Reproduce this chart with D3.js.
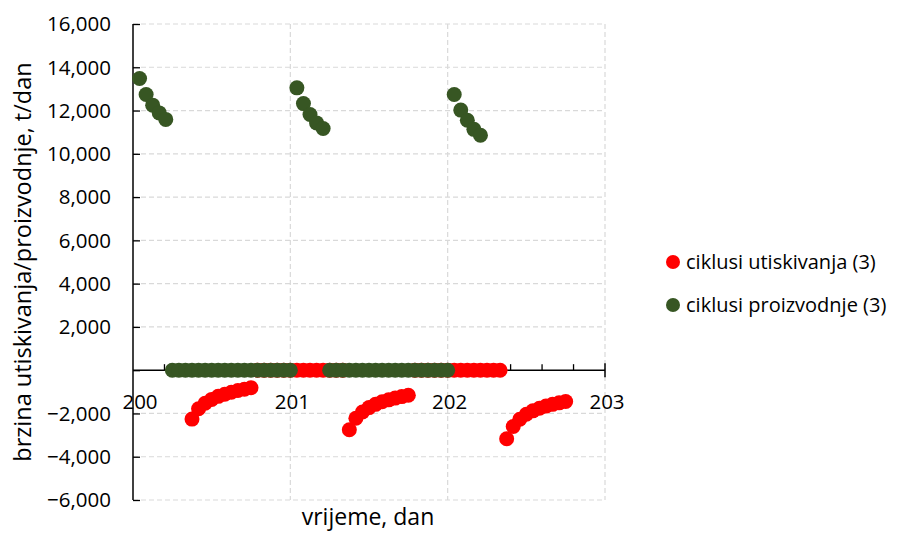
<!DOCTYPE html>
<html>
<head>
<meta charset="utf-8">
<script src="https://cdn.jsdelivr.net/npm/d3@7"></script>
<style>
  html, body { margin: 0; padding: 0; background: #fff; }
  svg { display: block; font-family: "Open Sans", "Liberation Sans", sans-serif; }
</style>
</head>
<body>
<svg id="chart" width="897" height="534"></svg>
<script>
// ---- data (time in hours after day 200, rate in t/dan) ----
const injHours = [9, 10, 11, 12, 13, 14, 15, 16, 17, 18,
  19, 20, 21, 22, 23, 24, 25, 26, 27, 28, 29, 30, 31, 32,
  33, 34, 35, 36, 37, 38, 39, 40, 41, 42,
  43, 44, 45, 46, 47, 48, 49, 50, 51, 52, 53, 54, 55, 56,
  57, 58, 59, 60, 61, 62, 63, 64, 65, 66];
const injRate = [-2260, -1780, -1530, -1350, -1210, -1110, -1020, -940, -880, -810,
  0, 0, 0, 0, 0, 0, 0, 0, 0, 0, 0, 0, 0, 0,
  -2750, -2220, -1930, -1730, -1580, -1460, -1370, -1290, -1220, -1160,
  0, 0, 0, 0, 0, 0, 0, 0, 0, 0, 0, 0, 0, 0,
  -3170, -2600, -2270, -2040, -1880, -1760, -1660, -1580, -1510, -1450];

const prodHours = [1, 2, 3, 4, 5,
  6, 7, 8, 9, 10, 11, 12, 13, 14, 15, 16, 17, 18, 19, 20, 21, 22, 23, 24,
  25, 26, 27, 28, 29,
  30, 31, 32, 33, 34, 35, 36, 37, 38, 39, 40, 41, 42, 43, 44, 45, 46, 47, 48,
  49, 50, 51, 52, 53];
const prodRate = [13480, 12740, 12250, 11890, 11590,
  0, 0, 0, 0, 0, 0, 0, 0, 0, 0, 0, 0, 0, 0, 0, 0, 0, 0, 0,
  13050, 12320, 11820, 11430, 11170,
  0, 0, 0, 0, 0, 0, 0, 0, 0, 0, 0, 0, 0, 0, 0, 0, 0, 0, 0,
  12740, 12020, 11550, 11130, 10860];

const startDay = 200;
const xTicks = [200, 201, 202, 203];
const xMinorTicks = [200.2, 200.4, 200.6, 200.8, 201.2, 201.4, 201.6, 201.8, 202.2, 202.4, 202.6, 202.8];
const yTicks = [-6000, -4000, -2000, 0, 2000, 4000, 6000, 8000, 10000, 12000, 14000, 16000];
const seriesNames = ["ciklusi utiskivanja (3)", "ciklusi proizvodnje (3)"];
const seriesColors = ["#ff0000", "#375623"];
const xTitle = "vrijeme, dan";
const yTitle = "brzina utiskivanja/proizvodnje, t/dan";

// ---- layout ----
const svg = d3.select("#chart");
const plot = { left: 133, right: 605, top: 24, bottom: 500 };
const x = d3.scaleLinear().domain([200, 203]).range([plot.left, plot.right]);
const y = d3.scaleLinear().domain([-6000, 16000]).range([plot.bottom, plot.top]);
const fmt = d3.format(",");
const R = 7.5;

// gridlines
const grid = svg.append("g").attr("stroke", "#d9d9d9").attr("stroke-width", 1.2)
  .attr("stroke-dasharray", "5,3");
yTicks.filter(v => v !== 0).forEach(v => {
  grid.append("line").attr("x1", plot.left).attr("x2", plot.right)
    .attr("y1", y(v)).attr("y2", y(v));
});
xTicks.filter(v => v !== 200).forEach(v => {
  grid.append("line").attr("x1", x(v)).attr("x2", x(v))
    .attr("y1", plot.top).attr("y2", plot.bottom);
});

// y axis (line at x = 200, ticks inside)
const yAxis = d3.axisRight(y).tickValues(yTicks).tickSize(7).tickFormat("");
svg.append("g").attr("transform", `translate(${x(200)},0)`).call(yAxis)
  .call(g => g.select(".domain").attr("stroke", "#000").attr("stroke-width", 1.5).attr("d", `M0,${plot.top}V${plot.bottom}`))
  .call(g => g.selectAll(".tick line").attr("stroke", "#000").attr("stroke-width", 1.3));

svg.append("g").selectAll("text").data(yTicks.filter(v => v !== 0)).join("text")
  .attr("x", 111).attr("y", d => y(d)).attr("dy", "0.36em")
  .attr("text-anchor", "end").attr("font-size", 20.5).attr("fill", "#000")
  .text(d => fmt(d));

// x axis at y = 0
const xAxisG = svg.append("g").attr("transform", `translate(0,${y(0)})`);
xAxisG.append("line").attr("x1", plot.left).attr("x2", plot.right)
  .attr("stroke", "#000").attr("stroke-width", 1.5);
xAxisG.selectAll("line.minor").data(xMinorTicks).join("line").attr("class", "minor")
  .attr("x1", d => x(d)).attr("x2", d => x(d)).attr("y1", 0).attr("y2", -6)
  .attr("stroke", "#000").attr("stroke-width", 1.3);
xAxisG.selectAll("line.major").data(xTicks.filter(v => v !== 200)).join("line").attr("class", "major")
  .attr("x1", d => x(d)).attr("x2", d => x(d)).attr("y1", -7).attr("y2", 7)
  .attr("stroke", "#000").attr("stroke-width", 1.5);

// data points
const inj = injHours.map((h, i) => ({ t: startDay + h / 24, v: injRate[i] }));
const prod = prodHours.map((h, i) => ({ t: startDay + h / 24, v: prodRate[i] }));
svg.append("g").attr("fill", seriesColors[0]).selectAll("circle").data(inj).join("circle")
  .attr("cx", d => x(d.t)).attr("cy", d => y(d.v)).attr("r", R);
svg.append("g").attr("fill", seriesColors[1]).selectAll("circle").data(prod).join("circle")
  .attr("cx", d => x(d.t)).attr("cy", d => y(d.v)).attr("r", R);

// x tick labels (drawn over points)
svg.append("g").selectAll("text").data(xTicks).join("text")
  .attr("x", d => Math.max(x(d) + 2, 140)).attr("y", 409)
  .attr("text-anchor", "middle").attr("font-size", 20.5).attr("fill", "#000")
  .text(d => d);

// axis titles
svg.append("text").attr("x", 368).attr("y", 525).attr("text-anchor", "middle")
  .attr("font-size", 23).attr("fill", "#000").text(xTitle);
svg.append("text").attr("transform", "translate(31,262) rotate(-90)")
  .attr("text-anchor", "middle").attr("font-size", 23.5).attr("fill", "#000").text(yTitle);

// legend
const legend = svg.append("g");
seriesNames.forEach((name, i) => {
  const ly = 262 + i * 43;
  legend.append("circle").attr("cx", 673).attr("cy", ly).attr("r", 7).attr("fill", seriesColors[i]);
  legend.append("text").attr("x", 686).attr("y", ly).attr("dy", "0.36em")
    .attr("font-size", 20).attr("fill", "#000").text(name);
});
</script>
</body>
</html>
